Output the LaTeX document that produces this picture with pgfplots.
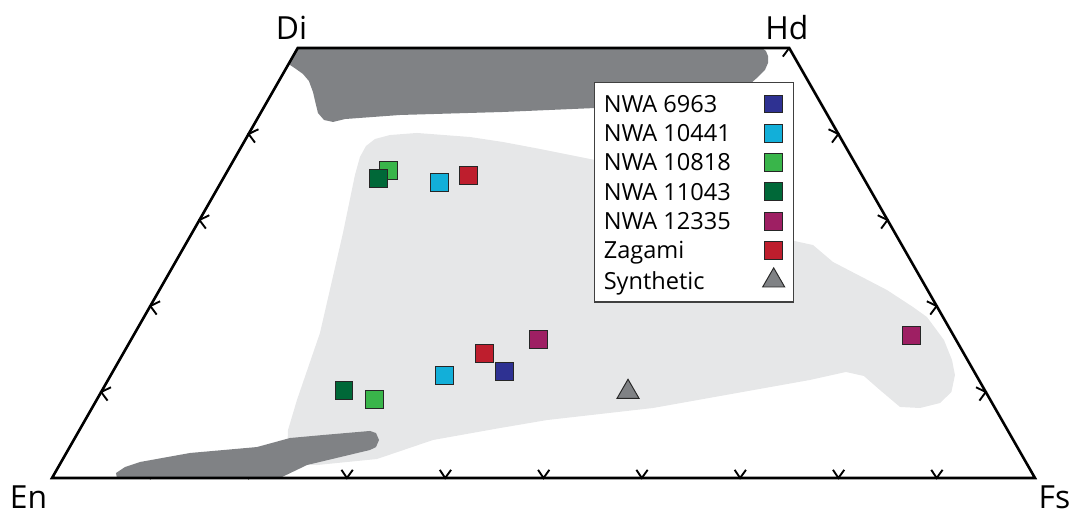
\documentclass[border=0pt]{standalone}
\usepackage{fontspec}
\setmainfont{Open Sans}
\usepackage{pgfplots}
\pgfplotsset{compat=1.18}

\definecolor{c6963}{HTML}{2E3192}
\definecolor{c10441}{HTML}{12AFD9}
\definecolor{c10818}{HTML}{39B54A}
\definecolor{c11043}{HTML}{006838}
\definecolor{c12335}{HTML}{9E1F63}
\definecolor{cZagami}{HTML}{BE1E2D}
\definecolor{cSynth}{HTML}{808285}
\definecolor{fieldDark}{HTML}{808285}
\definecolor{fieldLight}{HTML}{E6E7E8}

% x: position along En--Fs (Fs + Wo/2), y: Wo
\pgfplotsset{
  onemark/.style={legend image code/.code={\draw[##1] plot coordinates {(0pt,0pt)};}},
  sample/.style={only marks, mark=square*, mark size=3.8pt,
    mark options={draw=black!85, line width=0.4pt, fill=#1}, onemark},
  synth/.style={only marks, mark=triangle*, mark size=5.4pt,
    mark options={draw=black!85, line width=0.4pt, fill=cSynth}, onemark},
  field/.style={fill=#1, draw=none, forget plot},
  quadtick/.style={black, line width=0.8pt, forget plot, unbounded coords=jump},
}
\newcommand{\lbl}[1]{\makebox[60pt][l]{#1}}
\tikzset{endmember/.style={font=\fontsize{13.5}{16}\selectfont, anchor=base, inner sep=0pt}}

\begin{document}
\begin{tikzpicture}
\begin{axis}[
  scale only axis, width=16cm, height=7.679cm,
  xmin=-5.29, xmax=103.87, ymin=-4.30, ymax=55.58,
  hide axis, clip=false,
  legend plot pos=right,
  legend style={at={(axis cs:55.14,46.05)}, anchor=north west,
    draw=black!75, line width=0.5pt, fill=white,
    inner xsep=3.9pt, inner ysep=4.05pt, row sep=2.37pt, column sep=7.4pt,
    font=\fontsize{10}{12}\selectfont,
    cells={anchor=west},
    nodes={inner sep=0pt, text height=8.6pt, text depth=1.46pt}},
]

% light field of pyroxene compositions
\addplot[field=fieldLight] coordinates {
  (31.33,37.33) (31.94,38.60) (32.86,39.42) (34.38,39.88) (37.13,40.12)
  (42.52,39.65) (45.88,39.07) (49.64,38.26) (55.24,36.98) (65.92,32.33)
  (75.08,27.67) (77.42,27.09) (79.45,25.12) (84.94,21.86) (87.59,19.88)
  (89.01,18.72) (90.74,16.05) (91.56,13.72) (91.86,11.98) (91.50,10.00)
  (90.34,8.72) (88.30,8.14) (86.27,8.26) (84.23,10.23) (82.60,11.86)
  (80.77,12.33) (77.11,11.40) (61.14,8.14) (50.36,6.74) (45.57,5.81)
  (38.76,4.42) (33.06,2.21) (26.96,1.51) (24.72,1.63) (23.91,2.67)
  (24.01,5.58) (24.92,9.07) (27.26,16.86) (29.60,28.49) (30.82,35.23)
} -- cycle;

% edge ticks
\addplot[quadtick] coordinates {
  (9.45,0.95) (10,0) (10.6,0.95) (nan,nan)
  (19.45,0.95) (20,0) (20.6,0.95) (nan,nan)
  (29.45,0.95) (30,0) (30.6,0.95) (nan,nan)
  (39.45,0.95) (40,0) (40.6,0.95) (nan,nan)
  (49.45,0.95) (50,0) (50.6,0.95) (nan,nan)
  (59.45,0.95) (60,0) (60.6,0.95) (nan,nan)
  (69.45,0.95) (70,0) (70.6,0.95) (nan,nan)
  (79.45,0.95) (80,0) (80.6,0.95) (nan,nan)
  (89.45,0.95) (90,0) (90.6,0.95)
};
\addplot[quadtick] coordinates {
  (6.0,10.55) (5,10) (5.65,9.0) (nan,nan)
  (11.0,20.55) (10,20) (10.65,19.0) (nan,nan)
  (16.0,30.55) (15,30) (15.65,29.0) (nan,nan)
  (21.0,40.55) (20,40) (20.65,39.0)
};
\addplot[quadtick] coordinates {
  (94.0,10.55) (95,10) (94.35,9.0) (nan,nan)
  (89.0,20.55) (90,20) (89.35,19.0) (nan,nan)
  (84.0,30.55) (85,30) (84.35,29.0) (nan,nan)
  (79.0,40.55) (80,40) (79.35,39.0) (nan,nan)
  (75,50) (74.35,49.0)
};

% dark fields
\addplot[field=fieldDark] coordinates {
  (25,50) (72.23,50) (72.63,49.65) (72.84,49.07) (72.84,48.26) (72.53,47.44)
  (71.82,46.63) (71.01,45.81) (69.48,44.53) (59.82,43.37) (55.24,43.02)
  (45.88,42.56) (35.40,42.21) (29.81,41.74) (28.59,41.40) (27.67,41.63)
  (27.06,42.44) (26.86,43.37) (26.55,44.88) (26.14,46.16) (25.53,46.98)
  (24.82,47.56) (24.07,48.14)
} -- cycle;
\addplot[field=fieldDark] coordinates {
  (6.61,0) (6.51,0.58) (7.43,1.28) (8.95,1.86) (14.04,2.91) (20.85,3.60)
  (24.21,4.65) (27.57,5.00) (32.35,5.47) (32.96,5.23) (33.27,4.42)
  (32.96,3.60) (32.35,3.26) (25.94,1.51) (23.19,0)
} -- cycle;

% quadrilateral outline
\addplot[black, line width=1.1pt, line join=miter, forget plot]
  coordinates {(0,0) (100,0) (75,50) (25,50)} -- cycle;

% samples
\addplot[sample=c6963] coordinates {(46.0,12.4)};
\addplot[sample=c10441] coordinates {(39.4,34.4) (39.9,11.9)};
\addplot[sample=c10818] coordinates {(34.2,35.8) (32.8,9.1)};
\addplot[sample=c11043] coordinates {(33.2,34.8) (29.7,10.2)};
\addplot[sample=c12335] coordinates {(49.5,16.1) (87.4,16.6)};
\addplot[sample=cZagami] coordinates {(42.4,35.2) (44.0,14.5)};
\addplot[synth] coordinates {(58.6,10.0)};

\legend{\lbl{NWA 6963}, \lbl{NWA 10441}, \lbl{NWA 10818}, \lbl{NWA 11043},
  \lbl{NWA 12335}, \lbl{Zagami}, \lbl{Synthetic}}

% end-member labels
\node[endmember] at (axis cs:24.36,50.93) {Di};
\node[endmember] at (axis cs:74.77,50.93) {Hd};
\node[endmember] at (axis cs:-2.39,-3.60) {En};
\node[endmember] at (axis cs:101.98,-3.60) {Fs};

\path (rel axis cs:0,0) rectangle (rel axis cs:1,1);
\end{axis}
\end{tikzpicture}
\end{document}
